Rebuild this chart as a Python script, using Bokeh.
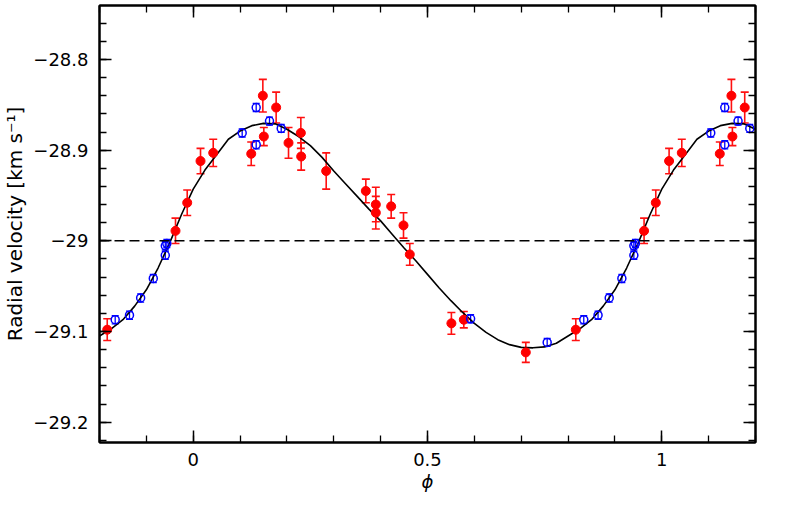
from bokeh.plotting import figure
from bokeh.models import (ColumnDataSource, Whisker, TeeHead, Span, LinearAxis,
                          SingleIntervalTicker, CustomJSTickFormatter, CustomLabelingPolicy)
from bokeh.embed import file_html
from bokeh.resources import INLINE

# ---- data (orbital phase, radial velocity in km/s) ----
red_phase = [0.0156, 0.0427, 0.1238, 0.1486, 0.1507, 0.1770, 0.2034, 0.2297, 0.2304,
             0.2838, 0.3684, 0.3897, 0.3897, 0.4225, 0.4488, 0.4622, 0.5510, 0.5775,
             0.7098, 0.8165, 0.9622, 0.9872]
red_rv = [-28.912, -28.903, -28.904, -28.840, -28.885, -28.853, -28.892, -28.881, -28.907,
          -28.923, -28.945, -28.960, -28.969, -28.962, -28.983, -29.015, -29.091, -29.087,
          -29.123, -29.098, -28.989, -28.958]
red_err = [0.014, 0.015, 0.013, 0.018, 0.010, 0.017, 0.017, 0.017, 0.015,
           0.020, 0.013, 0.019, 0.018, 0.013, 0.014, 0.012, 0.012, 0.009,
           0.011, 0.012, 0.014, 0.014]

blue_phase = [0.1045, 0.1344, 0.1344, 0.1628, 0.1878, 0.5920, 0.7554, 0.8335, 0.8640,
              0.8878, 0.9148, 0.9404, 0.9404, 0.9437]
blue_rv = [-28.881, -28.853, -28.894, -28.868, -28.876, -29.086, -29.112, -29.087, -29.082,
           -29.063, -29.0415, -29.016, -29.0055, -29.003]
blue_err = [0.0045] * len(blue_phase)

# orbital solution, one period
curve_phase = [0.000, 0.025, 0.050, 0.075, 0.100, 0.125, 0.150, 0.175, 0.200, 0.225,
               0.250, 0.275, 0.300, 0.325, 0.350, 0.375, 0.400, 0.425, 0.450, 0.475,
               0.500, 0.525, 0.550, 0.575, 0.600, 0.625, 0.650, 0.675, 0.700, 0.725,
               0.750, 0.775, 0.800, 0.825, 0.850, 0.875, 0.900, 0.925, 0.950, 0.975]
curve_rv = [-28.943, -28.922, -28.905, -28.888, -28.879, -28.873, -28.8705, -28.871, -28.877, -28.885,
            -28.895, -28.908, -28.923, -28.937, -28.951, -28.965, -28.978, -28.993, -29.008, -29.022,
            -29.037, -29.052, -29.066, -29.079, -29.091, -29.101, -29.109, -29.1145, -29.1175, -29.118,
            -29.117, -29.113, -29.105, -29.097, -29.087, -29.072, -29.054, -29.030, -29.002, -28.971]

systemic_rv = -29.0
x_lo, x_hi = -0.2, 1.2
y_lo, y_hi = -29.2224, -28.7405


def wrap(ph, vals, errs=None):
    xs, ys, es = [], [], []
    for off in (-1, 0, 1):
        for i, f in enumerate(ph):
            x = f + off
            if x_lo - 1e-9 <= x <= x_hi + 1e-9:
                xs.append(x)
                ys.append(vals[i])
                es.append(errs[i] if errs is not None else 0.0)
    return xs, ys, es


cx, cy, _ = wrap(curve_phase, curve_rv)
order = sorted(range(len(cx)), key=lambda i: cx[i])
curve_src = ColumnDataSource(dict(x=[cx[i] for i in order], y=[cy[i] for i in order]))

rx, ry, re = wrap(red_phase, red_rv, red_err)
red_src = ColumnDataSource(dict(x=rx, y=ry, lo=[a - b for a, b in zip(ry, re)],
                                hi=[a + b for a, b in zip(ry, re)]))
bx, by, be = wrap(blue_phase, blue_rv, blue_err)
blue_src = ColumnDataSource(dict(x=bx, y=by, lo=[a - b for a, b in zip(by, be)],
                                 hi=[a + b for a, b in zip(by, be)]))

FONT = "DejaVu Sans"

p = figure(width=797, height=514, x_range=(x_lo, x_hi), y_range=(y_lo, y_hi),
           output_backend="svg", toolbar_location=None,
           min_border_left=99, min_border_right=42, min_border_top=5, min_border_bottom=72)
p.xgrid.visible = False
p.ygrid.visible = False
p.outline_line_color = "black"
p.outline_line_width = 2
p.background_fill_color = "white"
p.border_fill_color = "white"

fmt = CustomJSTickFormatter(code=r"""
const s = Math.abs(tick).toFixed(1).replace(/\.0$/, '');
return (tick < -1e-9 ? '\u2212' : '') + s;
""")

hide_all = CustomLabelingPolicy(code="""
try {
  for (let i = 0; i < indices.size; i++) { indices.unset(i) }
} catch (e) {
  try { indices.clear() } catch (e2) {}
}
return indices
""")

xt = SingleIntervalTicker(interval=0.5, num_minor_ticks=5)
yt = SingleIntervalTicker(interval=0.1, num_minor_ticks=5)


def style(ax, show_labels):
    ax.axis_line_color = "black"
    ax.axis_line_width = 2
    ax.major_tick_line_color = "black"
    ax.major_tick_line_width = 1.5
    ax.minor_tick_line_color = "black"
    ax.minor_tick_line_width = 1.3
    ax.major_tick_in = 12
    ax.major_tick_out = 0
    ax.minor_tick_in = 7
    ax.minor_tick_out = 0
    ax.formatter = fmt
    if show_labels:
        ax.major_label_text_font = FONT
        ax.major_label_text_font_size = "18px"
        ax.major_label_text_color = "black"
    else:
        ax.major_label_policy = hide_all
        ax.major_label_text_font_size = "1px"
        ax.major_label_text_color = None
        ax.major_label_standoff = 0


p.xaxis.ticker = xt
p.yaxis.ticker = yt
style(p.xaxis[0], True)
style(p.yaxis[0], True)
p.xaxis.major_label_standoff = 10
p.yaxis.major_label_standoff = 11
p.xaxis.axis_label = "\u03d5"
p.xaxis.axis_label_text_font = FONT
p.xaxis.axis_label_text_font_style = "italic"
p.xaxis.axis_label_text_font_size = "18px"
p.xaxis.axis_label_text_color = "black"
p.xaxis.axis_label_standoff = 2
p.yaxis.axis_label = "Radial velocity [km s\u207b\u00b9]"
p.yaxis.axis_label_text_font = FONT
p.yaxis.axis_label_text_font_style = "normal"
p.yaxis.axis_label_text_font_size = "20px"
p.yaxis.axis_label_text_color = "black"
p.yaxis.axis_label_standoff = 3

top = LinearAxis(ticker=SingleIntervalTicker(interval=0.5, num_minor_ticks=5))
right = LinearAxis(ticker=SingleIntervalTicker(interval=0.1, num_minor_ticks=5))
style(top, False)
style(right, False)
p.add_layout(top, "above")
p.add_layout(right, "right")

p.add_layout(Span(location=systemic_rv, dimension="width", line_color="black",
                  line_width=1.5, line_dash="10 5"))

p.line("x", "y", source=curve_src, line_color="black", line_width=1.6)

p.add_layout(Whisker(source=red_src, base="x", lower="lo", upper="hi",
                     line_color="#ff1010", line_width=1.6,
                     lower_head=TeeHead(size=8, line_color="#ff1010", line_width=1.6),
                     upper_head=TeeHead(size=8, line_color="#ff1010", line_width=1.6)))
p.scatter("x", "y", source=red_src, marker="circle", size=9,
          fill_color="#ff0000", line_color="#ff0000")

p.add_layout(Whisker(source=blue_src, base="x", lower="lo", upper="hi",
                     line_color="#0000ff", line_width=1.3,
                     lower_head=TeeHead(size=7, line_color="#0000ff", line_width=1.3),
                     upper_head=TeeHead(size=7, line_color="#0000ff", line_width=1.3)))
p.scatter("x", "y", source=blue_src, marker="circle", size=8,
          fill_color=None, line_color="#0000ff", line_width=1.5)

open("out.html", "w").write(file_html(p, INLINE))
